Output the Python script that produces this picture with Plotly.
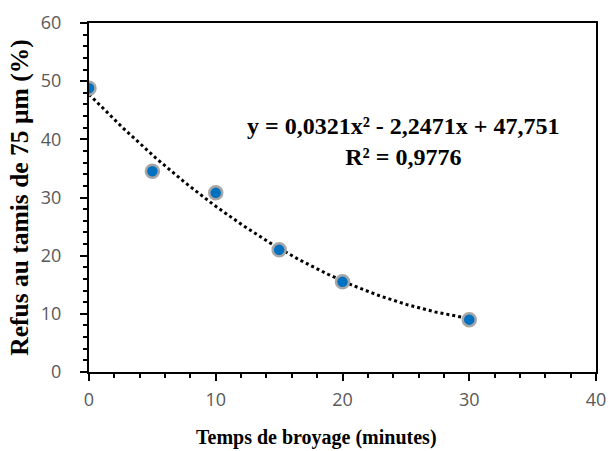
import numpy as np
import plotly.graph_objects as go

# measured points
temps = [0, 5, 10, 15, 20, 30]
refus = [48.8, 34.5, 30.8, 21.0, 15.5, 9.0]

# polynomial trendline (order 2), coefficients as shown on the chart
coeffs = [0.0321, -2.2471, 47.751]
eq_label = "<b>y = 0,0321x² - 2,2471x + 47,751<br>R² = 0,9776</b>"
x_title = "<b>Temps de broyage (minutes)</b>"
y_title = "<b>Refus au tamis de 75 µm (%)</b>"

x_fit = np.linspace(min(temps), max(temps), 200)
y_fit = np.polyval(coeffs, x_fit)

fig = go.Figure()
fig.add_trace(go.Scatter(
    x=x_fit, y=y_fit, mode="lines",
    line=dict(color="black", width=3, dash="dot"),
    hoverinfo="skip", showlegend=False,
))
fig.add_trace(go.Scatter(
    x=temps, y=refus, mode="markers",
    marker=dict(size=13, color="#0070C0", line=dict(color="#A6A6A6", width=2.5)),
    showlegend=False,
))

fig.add_annotation(
    x=24.85, y=39.7, xref="x", yref="y", text=eq_label, showarrow=False,
    align="center", font=dict(family="Liberation Serif", size=24, color="black"),
)
# x title sits a bit left of the plot centre in the original
fig.add_annotation(
    x=0.448, y=-0.226, xref="paper", yref="paper", text=x_title, showarrow=False,
    font=dict(family="Liberation Serif", size=20, color="black"),
)

axis_common = dict(
    showgrid=False, zeroline=False, showline=True, linecolor="black", linewidth=2,
    mirror=True, ticks="outside", tickcolor="black", tickwidth=2, ticklen=7,
    tickfont=dict(family="Open Sans", size=18, color="#595959"),
    minor=dict(ticks="outside", ticklen=4, tickwidth=1.5, tickcolor="black", dtick=2),
    automargin=False,
)

fig.update_xaxes(range=[0, 40], dtick=10, **axis_common, ticklabelstandoff=3)
fig.update_yaxes(
    range=[0, 60], dtick=10, **axis_common, ticklabelstandoff=15,
    title=dict(text=y_title, standoff=5,
               font=dict(family="Liberation Serif", size=25.5, color="black")),
)

fig.update_layout(
    width=608, height=451,
    margin=dict(l=89, r=12, t=23, b=79),
    plot_bgcolor="white", paper_bgcolor="white",
)

# drop the default 8px body margin so the figure fills the window
fig.write_html("out.html", config={"displayModeBar": False},
               post_script="document.body.style.margin='0';")
